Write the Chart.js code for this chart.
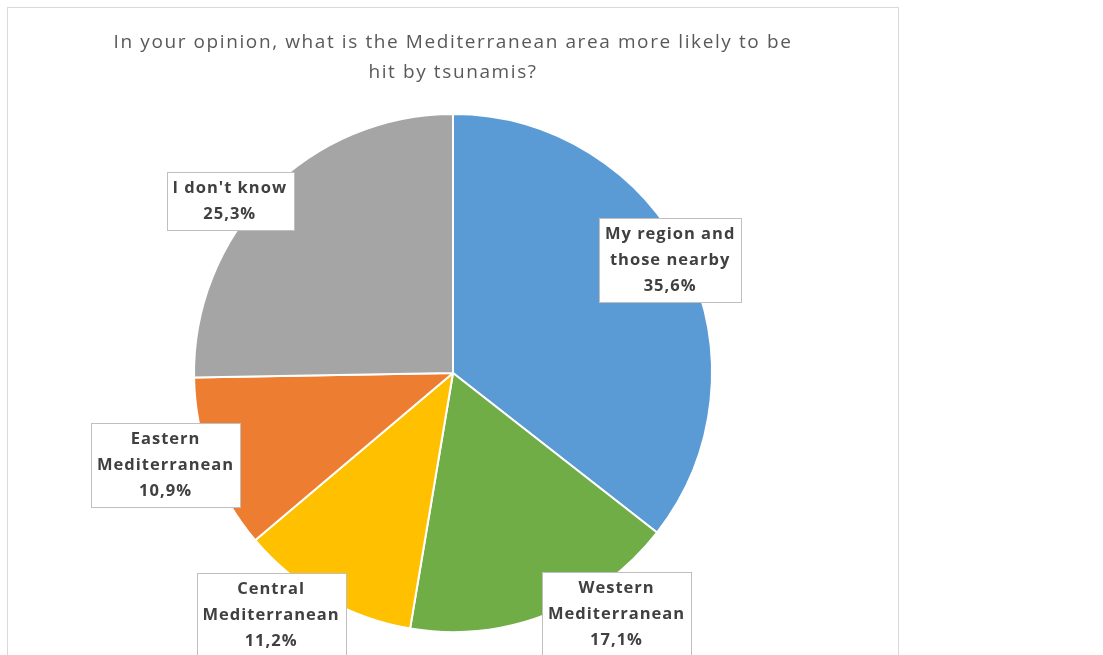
<!DOCTYPE html>
<html>
<head>
<meta charset="utf-8">
<script src="https://cdn.jsdelivr.net/npm/chart.js@4/dist/chart.umd.min.js"></script>
<style>
  body { margin: 0; background: #fff; overflow: hidden; }
  #frame { position: absolute; left: 7px; top: 7px; width: 890px; height: 700px; border: 1px solid #d9d9d9; }
  #wrap { position: absolute; left: 0; top: 0; width: 1103px; height: 655px; }
</style>
</head>
<body>
<div id="frame"></div>
<div id="wrap"><canvas id="pieChart"></canvas></div>
<script>
// survey answers, clockwise from 12 o'clock
const categories = ['My region and those nearby', 'Western Mediterranean', 'Central Mediterranean', 'Eastern Mediterranean', "I don't know"];
const shares = [35.6, 17.1, 11.2, 10.9, 25.3];
const sliceColors = ['#5b9bd5', '#70ad47', '#ffc000', '#ed7d31', '#a5a5a5'];
const titleLines = ['In your opinion, what is the Mediterranean area more likely to be', 'hit by tsunamis?'];

// where each callout sits: angle shift from the slice middle (deg) and distance in radii
const calloutPlace = [
    { shift: -1.5, dist: 0.945 },
    { shift: -13, dist: 1.123 },
    { shift: 7.3, dist: 1.168 },
    { shift: 2.9, dist: 1.165 },
    { shift: -6.9, dist: 1.088 }
];

const labelFont = 'bold 16.5px "Open Sans"';
const lineGap = 26;

function wrapWords(ctx, text, maxW) {
    const words = text.split(' ');
    const lines = [];
    let cur = '';
    words.forEach(w => {
        const test = cur ? cur + ' ' + w : w;
        if (cur && ctx.measureText(test).width > maxW) {
            lines.push(cur);
            cur = w;
        } else {
            cur = test;
        }
    });
    if (cur) lines.push(cur);
    return lines;
}

// wider tracking for the title text
const trackingPlugin = {
    id: 'tracking',
    beforeDraw(chart) {
        chart.ctx.letterSpacing = '1.6px';
    }
};

const calloutPlugin = {
    id: 'callouts',
    afterDatasetsDraw(chart) {
        const ctx = chart.ctx;
        const meta = chart.getDatasetMeta(0);
        ctx.save();
        ctx.font = labelFont;
        ctx.letterSpacing = '1px';
        ctx.textAlign = 'center';
        ctx.textBaseline = 'middle';
        meta.data.forEach((arc, i) => {
            const p = arc.getProps(['x', 'y', 'startAngle', 'endAngle', 'outerRadius'], true);
            const ang = (p.startAngle + p.endAngle) / 2 + calloutPlace[i].shift * Math.PI / 180;
            const d = calloutPlace[i].dist * p.outerRadius;
            const cx = p.x + Math.cos(ang) * d;
            const cy = p.y + Math.sin(ang) * d;
            const lines = wrapWords(ctx, categories[i], 160);
            lines.push(shares[i].toFixed(1).replace('.', ',') + '%');
            const w = Math.max(...lines.map(l => ctx.measureText(l).width)) + 12;
            const h = lines.length * lineGap + 6;
            const bx = Math.round(cx - w / 2) + 0.5;
            const by = Math.round(cy - h / 2) + 0.5;
            ctx.fillStyle = '#ffffff';
            ctx.fillRect(bx, by, Math.round(w), h);
            ctx.strokeStyle = '#bfbfbf';
            ctx.lineWidth = 1;
            ctx.strokeRect(bx, by, Math.round(w), h);
            ctx.fillStyle = '#404040';
            lines.forEach((l, k) => {
                ctx.fillText(l, cx, by + 3 + lineGap * (k + 0.5));
            });
        });
        ctx.restore();
    }
};

new Chart(document.getElementById('pieChart'), {
    type: 'pie',
    data: {
        labels: categories,
        datasets: [{
            data: shares,
            backgroundColor: sliceColors,
            borderColor: '#ffffff',
            borderWidth: 2
        }]
    },
    options: {
        responsive: true,
        maintainAspectRatio: false,
        animation: false,
        layout: { padding: { top: 0, left: 0, right: 197, bottom: 22 } },
        plugins: {
            legend: { display: false },
            tooltip: { enabled: false },
            title: {
                display: true,
                text: titleLines,
                color: '#595959',
                font: { family: 'Open Sans', size: 19, weight: 'normal', lineHeight: 1.58 },
                padding: { top: 28, bottom: 25 }
            }
        }
    },
    plugins: [trackingPlugin, calloutPlugin]
});
</script>
</body>
</html>
